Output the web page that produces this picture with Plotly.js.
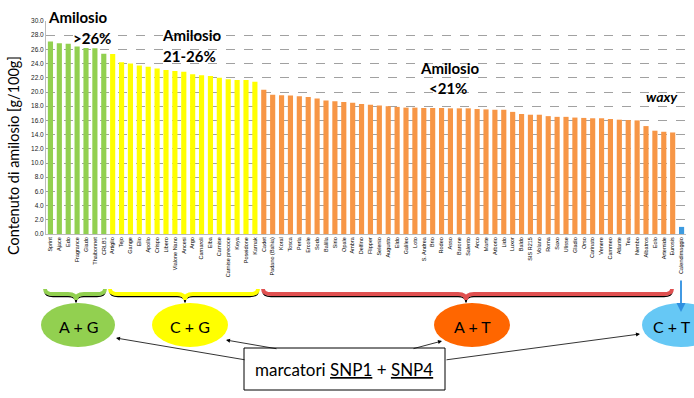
<!DOCTYPE html>
<html><head><meta charset="utf-8">
<script src="https://cdn.plot.ly/plotly-3.0.1.min.js"></script>
<style>html,body{margin:0;padding:0;background:#fff}#c{width:694px;height:398px}</style>
</head><body><div id="c"></div>
<script>
const varieties = ["Sprint","Ajace","Edo","Fragrance","Giado","Thaibonnet","CRLB1",
 "Artiglio","Tejo","Gange","Elio","Apollo","Crispo","Libero","Vialone Nano","Ancesi","Argo","Carnaroli","Elba","Carnise","Carnise precoce","Keya","Poseidone","Karnak",
 "Cadet","Padano (Bahia)","Koral","Tosca","Perla","Ercole","Sodo","Balilla","Sirio","Opale","Ambra","Delfino","Flipper","Selenio","Augusto","Eldo","Galileo","Loto","S. Andrea","Brio","Rodeo","Asso","Barone","Salento","Arco","Marte","Arborio","Lido","Luxor","Baldo","SIS R215","Volano","Roma","Saxo","Ulisse","Gladio","Orso","Carinato","Venere","Cammeo","Atlante","Tea","Nembo","Albatros","Eolo","Artemide","Eurosis",
 "Calendimaggio"];
const amylose = [27.1,26.85,26.8,26.4,26.2,26.15,25.4,
 25.35,24.2,24.0,23.75,23.55,23.3,23.1,22.95,22.85,22.5,22.35,22.25,22.0,21.8,21.7,21.7,21.45,
 20.3,19.6,19.55,19.5,19.4,19.3,19.1,18.8,18.7,18.6,18.5,18.3,18.2,18.1,18.0,17.9,
 17.8,17.8,17.75,17.75,17.75,17.7,17.7,17.7,17.6,17.55,17.5,17.5,17.2,16.9,16.8,16.8,16.6,16.5,16.5,16.4,16.35,16.3,16.3,16.2,16.1,16.05,16.0,15.2,14.55,14.4,14.3,
 1.0];
const groupOf = [].concat(Array(7).fill("high"),Array(17).fill("mid"),Array(47).fill("low"),["waxy"]);
const groupColor = {high:"#92D050", mid:"#FFFF00", low:"#F79646", waxy:"#3D9BE0"};
const yTicks = [0,2,4,6,8,10,12,14,16,18,20,22,24,26,28,30];

const L=46, R=8, T=21, B=164, W=694, H=398;
const pw = W-L-R, ph = H-T-B;
const px = x => (x-L)/pw;
const py = y => (H-B-y)/ph;

function brace(x0,x1,xc,yt,ym,yp){
  const P=(x,y)=>px(x).toFixed(5)+","+py(y).toFixed(5);
  return "M"+P(x0,yt)+" Q"+P(x0,ym)+" "+P(x0+8,ym)+" L"+P(xc-8,ym)+" Q"+P(xc,ym)+" "+P(xc,yp)+
         " Q"+P(xc,ym)+" "+P(xc+8,ym)+" L"+P(x1-8,ym)+" Q"+P(x1,ym)+" "+P(x1,yt);
}
const shapes = [];
[[45,105,76,"#92D050"],[110,258,185,"#FFFF00"],[263,672,466,"#E05050"]].forEach(b=>{
  shapes.push({type:"path",xref:"paper",yref:"paper",path:brace(b[0],b[1],b[2],291.5,296.5,302.5),line:{color:"#000",width:1.4}});
  shapes.push({type:"path",xref:"paper",yref:"paper",path:brace(b[0],b[1],b[2],289,294,300),line:{color:b[3],width:3.8}});
});
const ell = [[41,115,"#92D050","A + G",78],[152,228,"#FFFF00","C + G",190],[434,510,"#FF6600","A + T",472],[642,720,"#66C8F5","C + T",672]];
ell.forEach(e=>shapes.push({type:"circle",xref:"paper",yref:"paper",x0:px(e[0]),x1:px(e[1]),y0:py(347),y1:py(303),fillcolor:e[2],line:{width:0},layer:"above"}));
shapes.push({type:"rect",xref:"paper",yref:"paper",x0:px(244),x1:px(445),y0:py(390),y1:py(348),line:{color:"#000",width:1},fillcolor:"#fff"});

const annFont = {family:"Lato, 'Open Sans', sans-serif", color:"#000"};
const ann = [];
const txt=(x,y,t,size,extra)=>ann.push(Object.assign({xref:"paper",yref:"paper",x:px(x),y:py(y),text:t,showarrow:false,font:Object.assign({},annFont,{size:size}),xanchor:"center",yanchor:"middle"},extra||{}));
txt(78,17,"<b>Amilosio</b>",15);
txt(92,38,"<b>>26%</b>",15);
txt(192,35,"<b>Amilosio</b>",15);
txt(189,56,"<b>21-26%</b>",15);
txt(450,68,"<b>Amilosio</b>",15);
txt(448,88,"<b><21%</b>",15);
txt(662,96,"<b><i>waxy</i></b>",14);
ell.forEach(e=>txt(e[4],326,e[3],16));
txt(344,369,"marcatori <u>SNP1</u> + <u>SNP4</u>",17);
txt(13,156,"Contenuto di amilosio [g/100g]",14.5,{textangle:-90});
const arrow=(hx,hy,tx,ty)=>ann.push({xref:"paper",yref:"paper",x:px(hx),y:py(hy),ax:tx-hx,ay:ty-hy,text:"",showarrow:true,arrowhead:2,arrowsize:1,arrowwidth:0.8,arrowcolor:"#000"});
arrow(116,338,246,360);
arrow(226,340,278,349);
arrow(442,341,412,349);
arrow(640,334,445,360);
ann.push({xref:"paper",yref:"paper",x:px(681),y:py(312),ax:0,ay:-33,text:"",showarrow:true,arrowhead:2,arrowsize:1,arrowwidth:1.8,arrowcolor:"#2E8FE0"});

const data = [{
  type:"bar", x:varieties, y:amylose,
  marker:{color:groupOf.map(g=>groupColor[g])},
  hoverinfo:"x+y"
}];
const layout = {
  width:W,height:H,margin:{l:L,r:R,t:T,b:B,pad:0},
  paper_bgcolor:"#fff",plot_bgcolor:"#fff",
  bargap:0.42,showlegend:false,
  xaxis:{type:"category",tickangle:-90,tickfont:{family:"Liberation Sans, Arial",size:5.5,color:"#000"},
         showgrid:false,showline:true,linecolor:"#bbb",linewidth:1,ticks:"",automargin:false},
  yaxis:{range:[0,30],tickvals:yTicks,ticktext:yTicks.map(v=>v.toFixed(1)),
         tickfont:{family:"Liberation Sans, Arial",size:6.5,color:"#222"},
         showgrid:true,gridcolor:"#8a8a8a",griddash:"dash",gridwidth:0.8,
         zeroline:false,showline:true,linecolor:"#bbb",ticks:"",automargin:false},
  shapes:shapes, annotations:ann,
  font:{family:"Lato, sans-serif"}
};
Plotly.newPlot("c",data,layout,{staticPlot:true});
</script></body></html>
